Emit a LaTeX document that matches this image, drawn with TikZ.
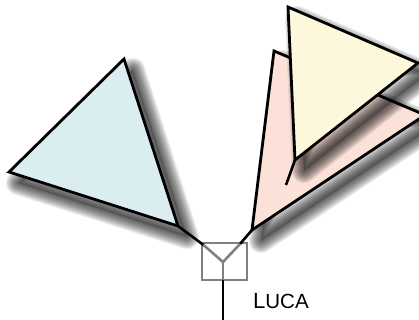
\documentclass[tikz,border=0pt]{standalone}
\usepackage{fontspec}
\setmainfont{Liberation Sans}
\usetikzlibrary{calc}
\definecolor{tblue}{HTML}{DAEEF2}
\definecolor{tpink}{HTML}{FCE1D9}
\definecolor{tyellow}{HTML}{FDF8DC}
\definecolor{boxgray}{HTML}{808080}
\tikzset{
  tri/.style={draw=black, line width=2.8pt, line join=miter},
  shadowfill/.style={fill=black, opacity=0.2},
  shadowlayer/.style={draw=black, opacity=0.07, line join=round},
  branch/.style={draw=black, line width=2.6pt},
  inbox/.style={draw=boxgray, line width=2.6pt},
}
\newcommand\mytrishadow[3]{%
  \path[shadowfill] ($(#1)+(9,11)$) -- ($(#2)+(9,11)$) -- ($(#3)+(9,11)$) -- cycle;
  \foreach \w in {2,4,...,24} {%
    \path[shadowlayer, line width=\w pt]
      ($(#1)+(9,11)$) -- ($(#2)+(9,11)$) -- ($(#3)+(9,11)$) -- cycle;
  }%
}
\begin{document}
\begin{tikzpicture}[x=1pt,y=-1pt]
\useasboundingbox (0,0) rectangle (419,320);
% blue triangle
\coordinate (bT) at (124,59);
\coordinate (bL) at (9,172);
\coordinate (bB) at (178,226);
% pink triangle
\coordinate (pT) at (274,51);
\coordinate (pR) at (425,115);
\coordinate (pB) at (252,230);
% yellow triangle
\coordinate (yT) at (288,7);
\coordinate (yR) at (418,63);
\coordinate (yB) at (295,160);
\coordinate (yS) at (286,185);
% LUCA box
\node[inbox, minimum width=45pt, minimum height=37pt, inner sep=0pt] (box) at (224.5,261.5) {};
\coordinate (j) at (223,262);
\coordinate (jl) at (203.5,245);
\coordinate (jr) at (240,244);
\coordinate (jb) at (223,280);
\coordinate (root) at (223,321);

\mytrishadow{bT}{bL}{bB}
\path[tri, fill=tblue] (bT) -- (bL) -- (bB) -- cycle;
\mytrishadow{pT}{pR}{pB}
\path[tri, fill=tpink] (pT) -- (pR) -- (pB) -- cycle;
\mytrishadow{yT}{yR}{yB}
\path[tri, fill=tyellow] (yT) -- (yR) -- (yB) -- cycle;
\draw[branch] (yB) -- (yS);

\draw[branch] (bB) -- (jl);
\draw[branch] (pB) -- (jr);
\draw[inbox] (jl) -- (j) -- (jr);
\draw[inbox] (j) -- (jb);
\draw[branch] (jb) -- (root);

\node[anchor=base west, inner sep=0pt] (lbl) at (253,308) {\fontsize{22}{22}\selectfont L\fontsize{20.5}{20.5}\selectfont UCA};
\end{tikzpicture}
\end{document}
